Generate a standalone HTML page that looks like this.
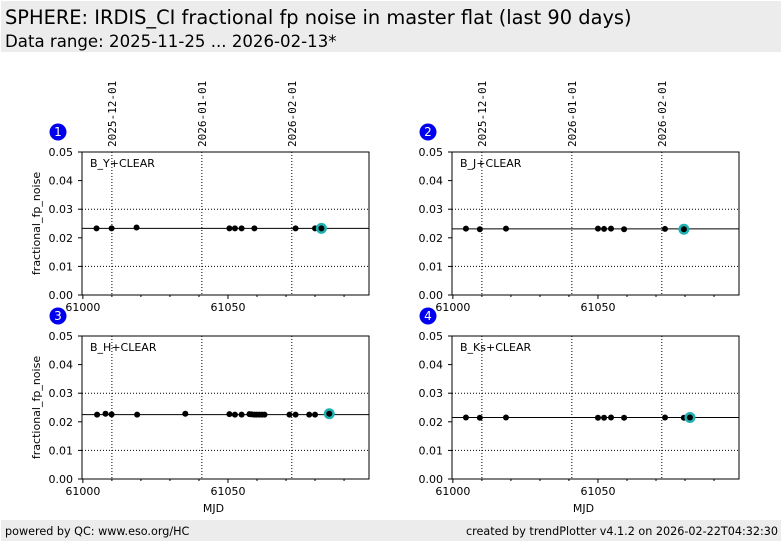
<!DOCTYPE html>
<html><head><meta charset="utf-8"><style>
body{margin:0;background:#fff;width:782px;height:542px;overflow:hidden;font-family:"DejaVu Sans","Liberation Sans",sans-serif}
.hdr{position:absolute;left:1px;top:1px;width:780px;height:51px;background:#ececec}
.t1{position:absolute;left:4px;top:5px;font-size:19.4px;color:#000;white-space:nowrap}
.t2{position:absolute;left:4px;top:31px;font-size:16.6px;color:#000;white-space:nowrap}
.ftr{position:absolute;left:1px;top:520px;width:780px;height:21px;background:#ececec;font-size:11.2px}
</style></head><body>
<div class="hdr">
<div class="t1">SPHERE: IRDIS_CI fractional fp noise in master flat (last 90 days)</div>
<div class="t2">Data range: 2025-11-25 ... 2026-02-13*</div>
</div>
<svg id="chart" width="782" height="542" style="position:absolute;left:0;top:0"></svg>
<div class="ftr">
<span style="position:absolute;left:4px;top:5px">powered by QC: www.eso.org/HC</span>
<span style="position:absolute;right:3px;top:5px">created by trendPlotter v4.1.2 on 2026-02-22T04:32:30</span>
</div>
<script>
const panelLabels=["B_Y+CLEAR","B_J+CLEAR","B_H+CLEAR","B_Ks+CLEAR"];
const p1x=[61004.7,61009.9,61018.5,61050.5,61052.4,61054.7,61059.1,61073.3,61080.0,61082.2];
const p1y=[0.0233,0.0233,0.0236,0.0233,0.0233,0.0233,0.0233,0.0233,0.0233,0.0233];
const p2x=[61004.5,61009.3,61018.3,61050.0,61052.1,61054.5,61059.0,61073.1,61079.6];
const p2y=[0.0232,0.0230,0.0232,0.0232,0.0231,0.0232,0.0230,0.0231,0.0230];
const p3x=[61004.9,61007.8,61009.9,61018.7,61035.3,61050.5,61052.4,61054.7,61057.4,61058.2,61059.1,61059.9,61060.8,61061.7,61062.6,61071.2,61073.3,61078.0,61080.0,61084.9];
const p3y=[0.0225,0.0228,0.0226,0.0225,0.0228,0.0227,0.0225,0.0225,0.0227,0.0226,0.0225,0.0225,0.0225,0.0225,0.0225,0.0225,0.0225,0.0225,0.0225,0.0228];
const p4x=[61004.5,61009.3,61018.3,61050.0,61052.1,61054.5,61059.0,61073.1,61079.6,61081.7];
const p4y=[0.0215,0.0214,0.0215,0.0214,0.0214,0.0215,0.0214,0.0215,0.0214,0.0215];
const medians=[0.0233,0.0231,0.0225,0.0215];
const yTicks=[0,0.01,0.02,0.03,0.04,0.05];
const yTickLabels=["0.00","0.01","0.02","0.03","0.04","0.05"];
const xTicks=[61000,61050];
const dateTicks=[61010,61041,61072];
const dateLabels=["2025-12-01","2026-01-01","2026-02-01"];
const X0=60999.7,X1=61098.6,Y0=0,Y1=0.05;
const NS="http://www.w3.org/2000/svg";
const svg=document.getElementById('chart');
function mk(t,a,p){const e=document.createElementNS(NS,t);for(const k in a)e.setAttribute(k,a[k]);(p||svg).appendChild(e);return e;}
const panels=[[82,152,p1x,p1y],[452,152,p2x,p2y],[82,336,p3x,p3y],[452,336,p4x,p4y]];
panels.forEach((pp,i)=>{
 const [L,T,xs,ys]=pp,W=287,H=143;
 const sx=v=>L+(v-X0)/(X1-X0)*W, sy=v=>T+H-(v-Y0)/(Y1-Y0)*H;
 const g=mk('g',{});
 
 
 mk('rect',{x:L,y:T,width:W,height:H,fill:'#fff',stroke:'none'},g);
 [0.01,0.03].forEach(v=>mk('line',{x1:L,x2:L+W,y1:sy(v),y2:sy(v),stroke:'#000','stroke-width':1,'stroke-dasharray':'1,2'},g));
 dateTicks.forEach((d,j)=>{
  mk('line',{x1:sx(d),x2:sx(d),y1:T,y2:T+H,stroke:'#000','stroke-width':1,'stroke-dasharray':'1,2'},g);
  if(i<2){const t=mk('text',{x:0,y:0,'font-size':11,'font-family':'DejaVu Sans Mono, Liberation Mono, monospace',transform:`translate(${sx(d)+4},${T-5}) rotate(-90)`},g);t.textContent=dateLabels[j];
  
  }
 });
 yTicks.forEach((v,j)=>{
  mk('line',{x1:L-4,x2:L,y1:sy(v),y2:sy(v),stroke:'#000'},g);
  const t=mk('text',{x:L-9,y:sy(v)+4,'font-size':11,'text-anchor':'end'},g);t.textContent=yTickLabels[j];
 });
 for(let m=61000;m<=61090;m+=10){mk('line',{x1:sx(m),x2:sx(m),y1:T+H,y2:T+H+(m%50==0?4:2),stroke:'#000'},g);}
 xTicks.forEach(v=>{const t=mk('text',{x:sx(v),y:T+H+16,'font-size':11,'text-anchor':'middle'},g);t.textContent=v;});
 mk('line',{x1:L,x2:L+W,y1:sy(medians[i]),y2:sy(medians[i]),stroke:'#000','stroke-width':1},g);
 xs.forEach((x,k)=>{
  if(k==xs.length-1) mk('circle',{cx:sx(x),cy:sy(ys[k]),r:5.5,fill:'#20b2b2'},g);
  const c=mk('circle',{cx:sx(x),cy:sy(ys[k]),r:3,fill:'#000'},g);
  
  
 });
 mk('rect',{x:L,y:T,width:W,height:H,fill:'none',stroke:'#000','stroke-width':1},g);
 const lb=mk('text',{x:L+8,y:T+15,'font-size':11},g);lb.textContent=panelLabels[i];
 
 
 mk('circle',{cx:L-24,cy:T-20,r:8.5,fill:'#0000ee'},g);
 const nb=mk('text',{x:L-24,y:T-16,'font-size':12,fill:'#fff','text-anchor':'middle'},g);nb.textContent=i+1;
 if(i%2==0){const yl=mk('text',{x:0,y:0,'font-size':11,'text-anchor':'middle',transform:`translate(${L-42},${T+H/2}) rotate(-90)`},g);yl.textContent='fractional_fp_noise';
  
  }
 if(i>=2){const xl=mk('text',{x:L+W/2-12,y:T+H+33,'font-size':11,'text-anchor':'middle'},g);xl.textContent='MJD';
  
  }
});
</script>
</body></html>
